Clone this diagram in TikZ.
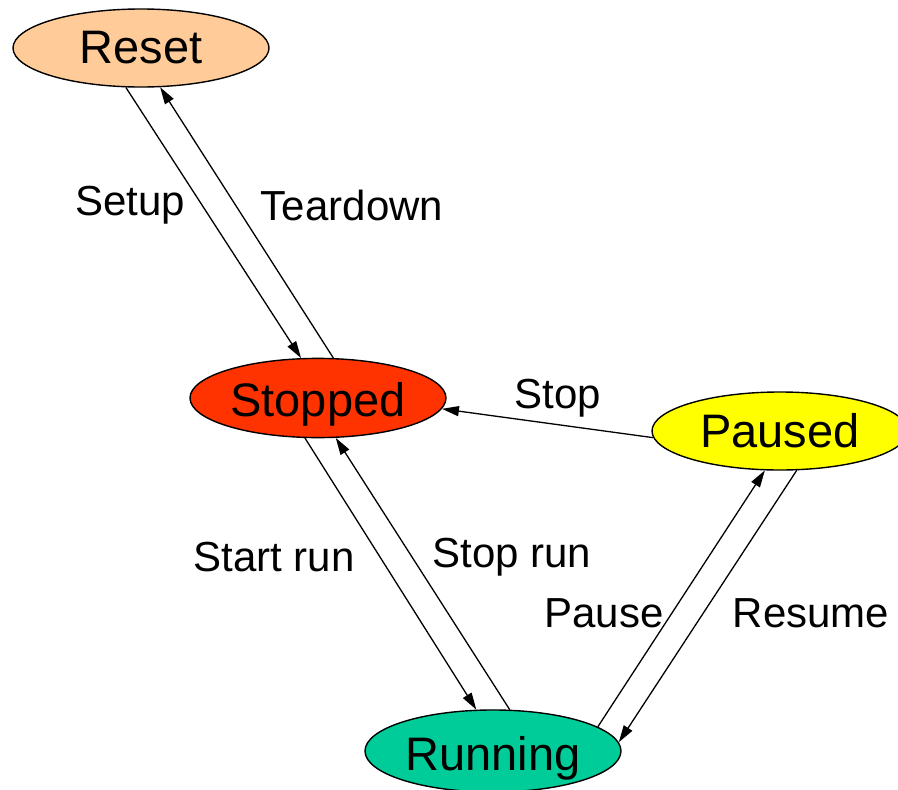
\documentclass[tikz,border=0pt]{standalone}
\usepackage{fontspec}
\setmainfont{Liberation Sans}
\usetikzlibrary{shapes.geometric,arrows.meta}
\definecolor{cReset}{HTML}{FFCC99}
\definecolor{cStopped}{HTML}{FF3300}
\definecolor{cPaused}{HTML}{FFFF00}
\definecolor{cRunning}{HTML}{00CC99}
\begin{document}
\begin{tikzpicture}[x=1pt,y=-1pt,
  state/.style={ellipse,draw,line width=1.4pt,inner sep=0pt,minimum width=256pt,minimum height=78pt,font=\fontsize{47}{50}\selectfont},
  trans/.style={draw,line width=1.3pt,-{Triangle[length=17pt,width=10pt]}},
  lbl/.style={font=\fontsize{42}{45}\selectfont,inner sep=0pt}]
\useasboundingbox[fill=white] (0,0) rectangle (898,790);
\node[state,fill=cReset] (reset) at (141,48) {Reset};
\node[state,fill=cStopped,text height=46pt,text depth=10pt] (stopped) at (318,398) {Stopped};
\node[state,fill=cPaused] (paused) at (780,431) {Paused};
\node[state,fill=cRunning,text height=48pt,text depth=10pt] (running) at (493,751) {Running};
\draw[trans] (reset.-111.8) -- (stopped.113.7);
\draw[trans] (stopped.69.4) -- (reset.-64.6);
\draw[trans] (stopped.-108) -- (running.112);
\draw[trans] (running.68) -- (stopped.-66.8);
\draw[trans] (paused.-177.3) -- (stopped.-5);
\draw[trans] (running.13.9) -- (paused.-111);
\draw[trans] (paused.-67) -- (running.4.9);
\node[lbl] (lsetup) at (130,205) {Setup};
\node[lbl] (lteardown) at (352,205) {Teardown};
\node[lbl] (lstop) at (558,398) {Stop};
\node[lbl] (lstartrun) at (274,557) {Start run};
\node[lbl] (lstoprun) at (512,557) {Stop run};
\node[lbl] (lpause) at (604,613) {Pause};
\node[lbl] (lresume) at (811,613) {Resume};
\end{tikzpicture}
\end{document}
